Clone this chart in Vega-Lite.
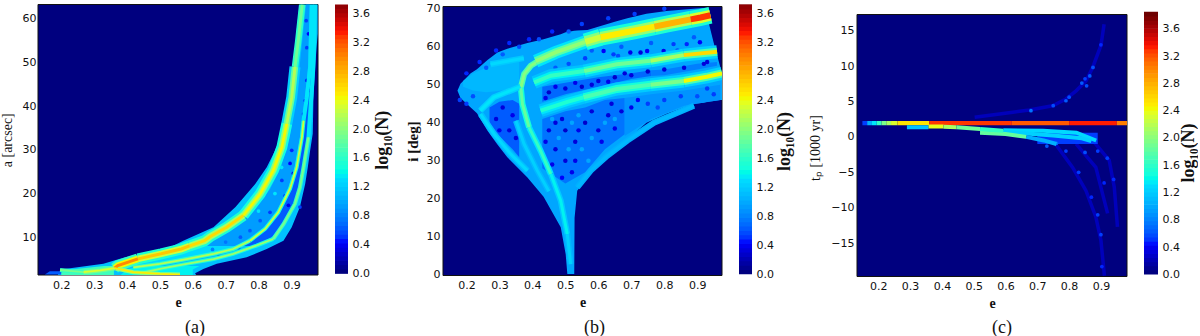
{"$schema":"https://vega.github.io/schema/vega-lite/v6.json","background":"white","padding":{"left":0,"top":2.5,"right":0,"bottom":0},"bounds":"flush","spacing":17,
"config":{"view":{"stroke":null},"axis":{"grid":false,"domain":false,"ticks":false,"tickCount":8,"labelOverlap":false,"labelFont":"DejaVu Sans","labelFontSize":11,"labelColor":"#111","labelPadding":4,"titleColor":"#111","titleFont":"Liberation Serif","titleFontWeight":"bold","titleFontSize":14}},
"datasets":{
"bar":[{"l":0,"h":0.07},{"l":0.06,"h":0.13},{"l":0.12,"h":0.19},{"l":0.18,"h":0.25},{"l":0.24,"h":0.31},{"l":0.3,"h":0.37},{"l":0.36,"h":0.43},{"l":0.42,"h":0.49},{"l":0.48,"h":0.55},{"l":0.54,"h":0.61},{"l":0.6,"h":0.67},{"l":0.66,"h":0.73},{"l":0.72,"h":0.79},{"l":0.78,"h":0.85},{"l":0.84,"h":0.91},{"l":0.9,"h":0.97},{"l":0.96,"h":1.03},{"l":1.02,"h":1.09},{"l":1.08,"h":1.15},{"l":1.14,"h":1.21},{"l":1.2,"h":1.27},{"l":1.26,"h":1.33},{"l":1.32,"h":1.39},{"l":1.38,"h":1.45},{"l":1.44,"h":1.51},{"l":1.5,"h":1.57},{"l":1.56,"h":1.63},{"l":1.62,"h":1.69},{"l":1.68,"h":1.75},{"l":1.74,"h":1.81},{"l":1.8,"h":1.87},{"l":1.86,"h":1.93},{"l":1.92,"h":1.99},{"l":1.98,"h":2.05},{"l":2.04,"h":2.11},{"l":2.1,"h":2.17},{"l":2.16,"h":2.23},{"l":2.22,"h":2.29},{"l":2.28,"h":2.35},{"l":2.34,"h":2.41},{"l":2.4,"h":2.47},{"l":2.46,"h":2.53},{"l":2.52,"h":2.59},{"l":2.58,"h":2.65},{"l":2.64,"h":2.71},{"l":2.7,"h":2.77},{"l":2.76,"h":2.83},{"l":2.82,"h":2.89},{"l":2.88,"h":2.95},{"l":2.94,"h":3.01},{"l":3,"h":3.07},{"l":3.06,"h":3.13},{"l":3.12,"h":3.19},{"l":3.18,"h":3.25},{"l":3.24,"h":3.31},{"l":3.3,"h":3.37},{"l":3.36,"h":3.43},{"l":3.42,"h":3.49},{"l":3.48,"h":3.55},{"l":3.54,"h":3.61},{"l":3.6,"h":3.67},{"l":3.66,"h":3.73},{"l":3.72,"h":3.79},{"l":3.78,"h":3.85}],
"ae":[
{"s":"E","y":1.35,"l":0.19,"h":0.61,"v":1.1},{"s":"E","y":1.75,"l":0.19,"h":0.607,"v":1.1},{"s":"E","y":2.75,"l":0.21,"h":0.632,"v":1.1},{"s":"E","y":3.9,"l":0.328,"h":0.673,"v":1.1},{"s":"E","y":5.4,"l":0.394,"h":0.764,"v":1.1},{"s":"E","y":7.3,"l":0.52,"h":0.825,"v":1.1},{"s":"E","y":9.2,"l":0.571,"h":0.876,"v":1.1},{"s":"E","y":12.3,"l":0.663,"h":0.901,"v":1.1},{"s":"E","y":16.9,"l":0.73,"h":0.926,"v":1.1},{"s":"E","y":22.2,"l":0.79,"h":0.942,"v":1.1},{"s":"E","y":26,"l":0.825,"h":0.95,"v":1.1},{"s":"E","y":29.8,"l":0.85,"h":0.957,"v":1.1},{"s":"E","y":33.7,"l":0.87,"h":0.965,"v":1.1},{"s":"E","y":41.3,"l":0.89,"h":0.967,"v":1.1},{"s":"E","y":48.9,"l":0.908,"h":0.972,"v":1.1},{"s":"E","y":56.6,"l":0.915,"h":0.98,"v":1.1},{"s":"E","y":63.5,"l":0.925,"h":0.98,"v":1.1},
{"s":"F","y":1.45,"l":0.15,"h":0.2,"v":0.6},{"s":"F","y":2.2,"l":0.165,"h":0.2,"v":0.6},
{"s":"T","y":1.35,"l":0.2,"h":0.36,"v":1.65},{"s":"T","y":1.9,"l":0.2,"h":0.36,"v":1.65},{"s":"T","y":2.6,"l":0.23,"h":0.36,"v":1.65},{"s":"T","y":3.4,"l":0.33,"h":0.39,"v":1.65},
{"s":"B","y":1.35,"l":0.38,"h":0.6,"v":1.35},{"s":"B","y":2.6,"l":0.4,"h":0.6,"v":1.35},{"s":"B","y":3.4,"l":0.44,"h":0.62,"v":1.35},
{"s":"W","y":3.4,"l":0.4,"h":0.46,"v":1.25},{"s":"W","y":5,"l":0.47,"h":0.57,"v":1.25},{"s":"W","y":6.2,"l":0.53,"h":0.65,"v":1.25},{"s":"W","y":8,"l":0.61,"h":0.735,"v":1.25},
{"s":"U","y":8,"l":0.61,"h":0.735,"v":0.9},{"s":"U","y":12,"l":0.72,"h":0.815,"v":0.9},{"s":"U","y":16,"l":0.785,"h":0.856,"v":0.9},{"s":"U","y":21,"l":0.835,"h":0.89,"v":0.9},{"s":"U","y":26,"l":0.868,"h":0.91,"v":0.9},{"s":"U","y":33,"l":0.895,"h":0.927,"v":0.9},{"s":"U","y":42,"l":0.915,"h":0.941,"v":0.9},{"s":"U","y":49,"l":0.925,"h":0.951,"v":0.9},{"s":"U","y":63.5,"l":0.945,"h":0.956,"v":0.9},
{"s":"X","y":8,"l":0.74,"h":0.79,"v":0.6},{"s":"X","y":10,"l":0.79,"h":0.84,"v":0.6},{"s":"X","y":13,"l":0.838,"h":0.876,"v":0.6},{"s":"X","y":16,"l":0.866,"h":0.9,"v":0.6},{"s":"X","y":21,"l":0.898,"h":0.925,"v":0.6},{"s":"X","y":26,"l":0.917,"h":0.937,"v":0.6},{"s":"X","y":33,"l":0.933,"h":0.952,"v":0.6},{"s":"X","y":49,"l":0.958,"h":0.967,"v":0.6}],
"al":[
{"s":"A","e":0.911,"y":49,"m":1.55,"c":1.85},{"s":"A","e":0.921,"y":55,"m":1.55,"c":1.85},{"s":"A","e":0.933,"y":63.3,"m":1.55,"c":1.85},
{"s":"B","e":0.886,"y":36,"h":1.2,"m":1.8,"c":2.15},{"s":"B","e":0.901,"y":42,"h":1.2,"m":1.8,"c":2.15},{"s":"B","e":0.911,"y":49,"h":1.2,"m":1.8,"c":2.15},
{"s":"C","e":0.754,"y":15,"h":1.4,"m":2,"c":2.4},{"s":"C","e":0.805,"y":19.9,"h":1.4,"m":2,"c":2.4},{"s":"C","e":0.845,"y":25.3,"h":1.4,"m":2,"c":2.4},{"s":"C","e":0.871,"y":30.6,"h":1.4,"m":2,"c":2.4},{"s":"C","e":0.886,"y":36,"h":1.4,"m":2,"c":2.4},
{"s":"D","e":0.59,"y":8,"h":1.5,"m":2.1,"c":2.55},{"s":"D","e":0.636,"y":9.2,"h":1.5,"m":2.1,"c":2.55},{"s":"D","e":0.652,"y":10.1,"h":1.5,"m":2.1,"c":2.55},{"s":"D","e":0.703,"y":12.3,"h":1.5,"m":2.1,"c":2.55},{"s":"D","e":0.754,"y":15,"h":1.5,"m":2.1,"c":2.55},
{"s":"G","e":0.433,"y":5.05,"h":1.5,"m":2.25,"c":2.65},{"s":"G","e":0.504,"y":6.2,"h":1.5,"m":2.25,"c":2.65},{"s":"G","e":0.565,"y":7.3,"h":1.5,"m":2.25,"c":2.65},{"s":"G","e":0.59,"y":8,"h":1.5,"m":2.25,"c":2.65},
{"s":"P","e":0.362,"y":2.9,"h":1.6,"m":2.4,"c":2.95},{"s":"P","e":0.372,"y":3.5,"h":1.6,"m":2.4,"c":2.95},{"s":"P","e":0.433,"y":5.05,"h":1.6,"m":2.4,"c":2.95}],
"at":[
{"s":"G","e":0.937,"y":36.7,"m":1.3},{"s":"G","e":0.947,"y":42,"m":1.3},{"s":"G","e":0.957,"y":49,"m":1.3},{"s":"G","e":0.962,"y":63.3,"m":1.3},
{"s":"H","e":0.774,"y":9.2,"m":1.5,"c":2.25},{"s":"H","e":0.82,"y":11.9,"m":1.5,"c":2.25},{"s":"H","e":0.86,"y":15.7,"m":1.5,"c":2.25},{"s":"H","e":0.896,"y":21.1,"m":1.5,"c":2.25},{"s":"H","e":0.916,"y":26,"m":1.5,"c":2.25},{"s":"H","e":0.932,"y":32.9,"m":1.5,"c":2.25},{"s":"H","e":0.937,"y":36.7,"m":1.5,"c":2.25},
{"s":"I","e":0.419,"y":3.1,"m":1.6,"c":2.15},{"s":"I","e":0.5,"y":3.9,"m":1.6,"c":2.15},{"s":"I","e":0.581,"y":5,"m":1.6,"c":2.15},{"s":"I","e":0.663,"y":6.2,"m":1.6,"c":2.15},{"s":"I","e":0.723,"y":7.3,"m":1.6,"c":2.15},{"s":"I","e":0.774,"y":9.2,"m":1.6,"c":2.15},
{"s":"J","e":0.952,"y":32.9,"m":1.3},{"s":"J","e":0.967,"y":49,"m":1.3},{"s":"J","e":0.972,"y":63.3,"m":1.3},
{"s":"K","e":0.845,"y":9.6,"m":1.6,"c":1.9},{"s":"K","e":0.876,"y":13,"m":1.6,"c":1.9},{"s":"K","e":0.911,"y":17.7,"m":1.6,"c":1.9},{"s":"K","e":0.926,"y":21.4,"m":1.6,"c":1.9},{"s":"K","e":0.937,"y":26,"m":1.6,"c":1.9},{"s":"K","e":0.952,"y":32.9,"m":1.6,"c":1.9},
{"s":"L","e":0.439,"y":1.75,"m":1.5,"c":2.05},{"s":"L","e":0.5,"y":2.75,"m":1.5,"c":2.05},{"s":"L","e":0.581,"y":3.9,"m":1.5,"c":2.05},{"s":"L","e":0.663,"y":5,"m":1.5,"c":2.05},{"s":"L","e":0.723,"y":6.2,"m":1.5,"c":2.05},{"s":"L","e":0.794,"y":8.1,"m":1.5,"c":2.05},{"s":"L","e":0.845,"y":9.6,"m":1.5,"c":2.05},
{"s":"M","e":0.267,"y":2,"m":1.9,"c":2.3},{"s":"M","e":0.318,"y":2.4,"m":1.9,"c":2.3},{"s":"M","e":0.363,"y":2.9,"m":1.9,"c":2.3},
{"s":"N","e":0.196,"y":2.5,"m":1.6,"c":1.9},{"s":"N","e":0.267,"y":2,"m":1.6,"c":1.9},
{"s":"O","e":0.363,"y":2.9,"m":2,"c":2.45},{"s":"O","e":0.419,"y":2,"m":2,"c":2.45},{"s":"O","e":0.5,"y":1.6,"m":2,"c":2.45},{"s":"O","e":0.561,"y":1.45,"m":2,"c":2.45}],
"ap":[{"e":0.896,"y":26.9,"v":0.4},{"e":0.906,"y":24.6,"v":0.35},{"e":0.881,"y":19.5,"v":0.45},{"e":0.891,"y":17.3,"v":0.35},{"e":0.835,"y":15.7,"v":0.5},{"e":0.871,"y":23,"v":0.5},{"e":0.805,"y":13.8,"v":0.6},{"e":0.774,"y":11.5,"v":0.6},{"e":0.901,"y":29.9,"v":0.45},{"e":0.926,"y":16.9,"v":0.5},{"e":0.952,"y":56.6,"v":0.4},{"e":0.962,"y":51.3,"v":0.4},{"e":0.947,"y":45.9,"v":0.45},{"e":0.957,"y":43.6,"v":0.4},{"e":0.942,"y":41.3,"v":0.5},{"e":0.937,"y":38.2,"v":0.45},{"e":0.945,"y":59.6,"v":0.5},{"e":0.947,"y":53.4,"v":0.5},{"e":0.85,"y":20,"v":1.3},{"e":0.87,"y":26,"v":1.3},{"e":0.8,"y":16,"v":1.3},{"e":0.745,"y":10,"v":0.6},{"e":0.7,"y":8.9,"v":0.7},{"e":0.66,"y":7.2,"v":0.75},{"e":0.74,"y":7.6,"v":0.6},{"e":0.68,"y":5.6,"v":0.75}],
"be":[
{"s":"E","e":0.173,"l":48.4,"h":48.5,"v":0.95},{"s":"E","e":0.182,"l":46.5,"h":50.3,"v":0.95},{"s":"E","e":0.213,"l":44,"h":53,"v":0.95},{"s":"E","e":0.232,"l":42.5,"h":54.1,"v":0.95},{"s":"E","e":0.264,"l":37.9,"h":56.5,"v":0.95},{"s":"E","e":0.294,"l":34.3,"h":58.5,"v":0.95},{"s":"E","e":0.324,"l":30.9,"h":59.5,"v":0.95},{"s":"E","e":0.385,"l":25.6,"h":61,"v":0.95},{"s":"E","e":0.434,"l":20.5,"h":62,"v":0.95},{"s":"E","e":0.486,"l":12.5,"h":63.3,"v":0.95},{"s":"E","e":0.501,"l":5.4,"h":63.8,"v":0.95},{"s":"E","e":0.506,"l":0.2,"h":63.9,"v":0.95},{"s":"E","e":0.527,"l":0.2,"h":64.2,"v":0.95},{"s":"E","e":0.528,"l":15,"h":64.2,"v":0.95},{"s":"E","e":0.536,"l":22.1,"h":64.3,"v":0.95},{"s":"E","e":0.567,"l":25.6,"h":64.4,"v":0.95},{"s":"E","e":0.607,"l":30,"h":65.5,"v":0.95},{"s":"E","e":0.65,"l":33.5,"h":66.6,"v":0.95},{"s":"E","e":0.688,"l":35.6,"h":67.5,"v":0.95},{"s":"E","e":0.746,"l":40,"h":68.7,"v":0.95},{"s":"E","e":0.807,"l":42.4,"h":69.4,"v":0.95},{"s":"E","e":0.889,"l":45,"h":70,"v":0.95},{"s":"E","e":0.919,"l":45.3,"h":70.2,"v":0.95},{"s":"E","e":0.93,"l":45.5,"h":68,"v":0.95},{"s":"E","e":0.95,"l":45.7,"h":61,"v":0.95},{"s":"E","e":0.97,"l":46,"h":54.6,"v":0.95},{"s":"E","e":0.98,"l":46,"h":48.4,"v":0.95},
{"s":"A","e":0.43,"l":45.5,"h":49.5,"v":0.65},{"s":"A","e":0.5,"l":47.5,"h":50.5,"v":0.65},{"s":"A","e":0.6,"l":49.5,"h":52,"v":0.65},{"s":"A","e":0.7,"l":51.5,"h":53,"v":0.65},{"s":"A","e":0.76,"l":52.3,"h":53.8,"v":0.65},
{"s":"B","e":0.76,"l":52.3,"h":53.8,"v":0.75},{"s":"B","e":0.8,"l":52.5,"h":54,"v":0.75},{"s":"B","e":0.9,"l":54,"h":55.5,"v":0.75},{"s":"B","e":0.96,"l":55,"h":56,"v":0.75},
{"s":"C","e":0.43,"l":28,"h":41,"v":0.7},{"s":"C","e":0.5,"l":24,"h":43,"v":0.7},{"s":"C","e":0.56,"l":27,"h":44,"v":0.7},{"s":"C","e":0.62,"l":33,"h":46,"v":0.7},{"s":"C","e":0.68,"l":37,"h":46.5,"v":0.7},
{"s":"D","e":0.68,"l":36.5,"h":46.5,"v":0.85},{"s":"D","e":0.76,"l":41,"h":47.5,"v":0.85},{"s":"D","e":0.86,"l":44.5,"h":48.5,"v":0.85},{"s":"D","e":0.97,"l":46,"h":50,"v":0.85},
{"s":"F","e":0.27,"l":40,"h":44,"v":0.6},{"s":"F","e":0.3,"l":36.5,"h":45.5,"v":0.6},{"s":"F","e":0.34,"l":33,"h":46,"v":0.6},{"s":"F","e":0.36,"l":31,"h":45,"v":0.6},
{"s":"H","e":0.19,"l":49.5,"h":51,"v":1.05},{"s":"H","e":0.22,"l":48.5,"h":53,"v":1.05},{"s":"H","e":0.26,"l":48,"h":54.5,"v":1.05},{"s":"H","e":0.31,"l":48.5,"h":56,"v":1.05},{"s":"H","e":0.36,"l":50,"h":57,"v":1.05}],
"bt":[
{"s":"2","e":0.56,"y":61.3,"h":1.4,"m":1.95,"c":2.25},{"s":"2","e":0.607,"y":62.5,"h":1.4,"m":1.95,"c":2.25},
{"s":"3","e":0.607,"y":62.5,"h":1.45,"m":2,"c":2.45},{"s":"3","e":0.708,"y":64.2,"h":1.45,"m":2,"c":2.45},{"s":"3","e":0.77,"y":65.3,"h":1.45,"m":2,"c":2.45},
{"s":"4","e":0.77,"y":65.3,"h":1.5,"m":2.15,"c":2.75},{"s":"4","e":0.809,"y":66,"h":1.5,"m":2.15,"c":2.75},{"s":"4","e":0.88,"y":67.2,"h":1.5,"m":2.15,"c":2.75},
{"s":"5","e":0.88,"y":67.2,"h":1.5,"m":2.3,"c":3.25},{"s":"5","e":0.91,"y":67.7,"h":1.5,"m":2.3,"c":3.25},{"s":"5","e":0.94,"y":68.3,"h":1.5,"m":2.3,"c":3.25}],
"bm":[
{"s":"T2","e":0.41,"y":56.2,"h":1.3,"m":1.75,"c":2},{"s":"T2","e":0.47,"y":58.5,"h":1.3,"m":1.75,"c":2},{"s":"T2","e":0.56,"y":61.3,"h":1.3,"m":1.75,"c":2},
{"s":"M1","e":0.405,"y":50.6,"h":1.1,"m":1.35,"c":1.6},{"s":"M1","e":0.456,"y":52.4,"h":1.1,"m":1.35,"c":1.6},{"s":"M1","e":0.557,"y":53.6,"h":1.1,"m":1.35,"c":1.6},
{"s":"M2","e":0.557,"y":53.6,"h":1.2,"m":1.5,"c":1.85},{"s":"M2","e":0.656,"y":55.4,"h":1.2,"m":1.5,"c":1.85},{"s":"M2","e":0.758,"y":56.3,"h":1.2,"m":1.5,"c":1.85},
{"s":"M3","e":0.758,"y":56.3,"h":1.2,"m":1.6,"c":2.1},{"s":"M3","e":0.859,"y":57.8,"h":1.2,"m":1.6,"c":2.1},
{"s":"M4","e":0.859,"y":57.8,"h":1.2,"m":1.7,"c":2.55},{"s":"M4","e":0.96,"y":58.7,"h":1.2,"m":1.7,"c":2.55},
{"s":"L1","e":0.425,"y":43.2,"h":1.1,"m":1.3,"c":1.5},{"s":"L1","e":0.506,"y":45.5,"h":1.1,"m":1.3,"c":1.5},{"s":"L1","e":0.555,"y":46.7,"h":1.1,"m":1.3,"c":1.5},
{"s":"L2","e":0.555,"y":46.7,"h":1.15,"m":1.45,"c":1.7},{"s":"L2","e":0.656,"y":48.9,"h":1.15,"m":1.45,"c":1.7},{"s":"L2","e":0.758,"y":50,"h":1.15,"m":1.45,"c":1.7},
{"s":"L3","e":0.758,"y":50,"h":1.2,"m":1.55,"c":1.9},{"s":"L3","e":0.859,"y":51,"h":1.2,"m":1.55,"c":1.9},
{"s":"L4","e":0.859,"y":51,"h":1.2,"m":1.7,"c":2.4},{"s":"L4","e":0.929,"y":52.1,"h":1.2,"m":1.7,"c":2.4},{"s":"L4","e":0.975,"y":53,"h":1.2,"m":1.7,"c":2.4}],
"bs":[
{"s":"T","e":0.365,"y":49.3,"m":1.7,"c":1.95},{"s":"T","e":0.375,"y":52.8,"m":1.7,"c":1.95},{"s":"T","e":0.395,"y":55,"m":1.7,"c":1.95},{"s":"T","e":0.435,"y":57.2,"m":1.7,"c":1.95},
{"s":"a","e":0.365,"y":49.3,"m":1.45,"c":1.8},{"s":"a","e":0.37,"y":44.9,"m":1.45,"c":1.8},{"s":"a","e":0.39,"y":38.8,"m":1.45,"c":1.8},
{"s":"b","e":0.39,"y":38.8,"m":1.3,"c":1.6},{"s":"b","e":0.425,"y":32.6,"m":1.3,"c":1.6},{"s":"b","e":0.456,"y":26.5,"m":1.3,"c":1.6},
{"s":"c","e":0.456,"y":26.5,"m":1.15,"c":1.35},{"s":"c","e":0.486,"y":19.5,"m":1.15,"c":1.35},{"s":"c","e":0.506,"y":10.7,"m":1.15,"c":1.35},
{"s":"d","e":0.506,"y":10.7,"m":1.05,"c":1.2},{"s":"d","e":0.516,"y":2.8,"m":1.05,"c":1.2},
{"s":"f","e":0.242,"y":43.2,"m":1.2,"c":1.3},{"s":"f","e":0.283,"y":46.7,"m":1.2,"c":1.3},{"s":"f","e":0.364,"y":49.5,"m":1.2,"c":1.3},
{"s":"g","e":0.243,"y":42.3,"m":1.1,"c":1.25},{"s":"g","e":0.284,"y":37,"m":1.1,"c":1.25},{"s":"g","e":0.334,"y":31.8,"m":1.1,"c":1.25},{"s":"g","e":0.385,"y":27.4,"m":1.1,"c":1.25},
{"s":"i","e":0.35,"y":40.5,"m":1.05,"c":1.2},{"s":"i","e":0.375,"y":34.4,"m":1.05,"c":1.2},{"s":"i","e":0.415,"y":27.4,"m":1.05,"c":1.2},{"s":"i","e":0.45,"y":22,"m":1.05,"c":1.2},
{"s":"j","e":0.536,"y":23,"m":1,"c":1.05},{"s":"j","e":0.577,"y":27.4,"m":1,"c":1.05},{"s":"j","e":0.627,"y":31.3,"m":1,"c":1.05},{"s":"j","e":0.688,"y":35.3,"m":1,"c":1.05},{"s":"j","e":0.769,"y":40,"m":1,"c":1.05},{"s":"j","e":0.89,"y":44.5,"m":1,"c":1.05},
{"s":"k","e":0.273,"y":55.4,"m":1.15,"c":1.25},{"s":"k","e":0.374,"y":57,"m":1.15,"c":1.25}],
"bp":[{"e":0.697,"y":58.5,"v":0.35},{"e":0.728,"y":58.5,"v":0.3},{"e":0.748,"y":58.9,"v":0.4},{"e":0.798,"y":58.9,"v":0.35},{"e":0.828,"y":60.7,"v":0.5},{"e":0.616,"y":58.9,"v":0.4},{"e":0.646,"y":58,"v":0.5},{"e":0.868,"y":60.7,"v":0.45},{"e":0.908,"y":61.2,"v":0.4},{"e":0.56,"y":57,"v":0.5},{"e":0.51,"y":55.5,"v":0.55},{"e":0.93,"y":56,"v":0.3},{"e":0.58,"y":59,"v":0.6},{"e":0.67,"y":60,"v":0.6},{"e":0.76,"y":61,"v":0.6},{"e":0.84,"y":59,"v":0.55},{"e":0.47,"y":54.5,"v":0.6},{"e":0.66,"y":57.6,"v":0.55},{"e":0.89,"y":62.5,"v":0.6},
{"e":0.45,"y":48,"v":0.25},{"e":0.5,"y":49,"v":0.3},{"e":0.55,"y":49.5,"v":0.25},{"e":0.6,"y":51,"v":0.3},{"e":0.65,"y":52,"v":0.25},{"e":0.7,"y":52.5,"v":0.3},{"e":0.75,"y":53.5,"v":0.25},{"e":0.8,"y":54,"v":0.3},{"e":0.86,"y":54.5,"v":0.3},{"e":0.92,"y":55.5,"v":0.3},{"e":0.47,"y":49.5,"v":0.35},{"e":0.53,"y":50.5,"v":0.35},{"e":0.58,"y":50,"v":0.3},{"e":0.63,"y":50.8,"v":0.35},{"e":0.68,"y":53,"v":0.3},{"e":0.44,"y":46.5,"v":0.35},
{"e":0.45,"y":38,"v":0.3},{"e":0.47,"y":33,"v":0.3},{"e":0.5,"y":38,"v":0.25},{"e":0.53,"y":35,"v":0.3},{"e":0.56,"y":40,"v":0.25},{"e":0.6,"y":38,"v":0.3},{"e":0.63,"y":42,"v":0.3},{"e":0.67,"y":43,"v":0.3},{"e":0.7,"y":44,"v":0.35},{"e":0.5,"y":30,"v":0.3},{"e":0.52,"y":27,"v":0.35},{"e":0.47,"y":40,"v":0.3},{"e":0.44,"y":35,"v":0.35},{"e":0.49,"y":41,"v":0.3},{"e":0.54,"y":38,"v":0.35},{"e":0.58,"y":43,"v":0.3},{"e":0.61,"y":35,"v":0.35},{"e":0.65,"y":38.5,"v":0.35},{"e":0.46,"y":29,"v":0.35},{"e":0.53,"y":30,"v":0.35},{"e":0.64,"y":45,"v":0.3},{"e":0.72,"y":46,"v":0.4},{"e":0.49,"y":25.5,"v":0.4},
{"e":0.48,"y":36,"v":0.95},{"e":0.52,"y":40,"v":0.95},{"e":0.55,"y":33,"v":0.95},{"e":0.58,"y":36,"v":0.95},{"e":0.62,"y":40,"v":0.95},{"e":0.51,"y":33,"v":0.95},{"e":0.65,"y":41,"v":0.95},{"e":0.54,"y":42,"v":0.95},{"e":0.46,"y":41,"v":0.95},{"e":0.57,"y":30,"v":0.95},
{"e":0.75,"y":45,"v":0.5},{"e":0.8,"y":46,"v":0.5},{"e":0.85,"y":47,"v":0.5},{"e":0.9,"y":47,"v":0.55},{"e":0.93,"y":49,"v":0.5},{"e":0.78,"y":44,"v":0.55},{"e":0.95,"y":47.5,"v":0.5},
{"e":0.29,"y":41,"v":0.3},{"e":0.31,"y":44,"v":0.3},{"e":0.33,"y":38,"v":0.3},{"e":0.35,"y":36,"v":0.3},{"e":0.3,"y":38,"v":0.35},{"e":0.34,"y":42,"v":0.35},
{"e":0.2,"y":53,"v":0.45},{"e":0.24,"y":56,"v":0.45},{"e":0.29,"y":59,"v":0.45},{"e":0.33,"y":61,"v":0.45},{"e":0.39,"y":62,"v":0.45},{"e":0.46,"y":64,"v":0.45},{"e":0.55,"y":66,"v":0.5},{"e":0.63,"y":67.5,"v":0.5},{"e":0.18,"y":46,"v":0.5},{"e":0.2,"y":45,"v":0.5},{"e":0.22,"y":47,"v":0.55},{"e":0.26,"y":54.5,"v":0.6},{"e":0.31,"y":58,"v":0.6},{"e":0.36,"y":60,"v":0.55},{"e":0.42,"y":62,"v":0.55},{"e":0.51,"y":64,"v":0.6},{"e":0.71,"y":68.6,"v":0.5},{"e":0.8,"y":70,"v":0.5}],
"cr":[
{"a":0.7,"b":0.89,"l":-1,"h":0.6,"v":0.5},
{"a":0.15,"b":0.165,"l":1.65,"h":2.25,"v":0.5},{"a":0.165,"b":0.18,"l":1.65,"h":2.25,"v":1},{"a":0.18,"b":0.195,"l":1.65,"h":2.25,"v":1.3},{"a":0.195,"b":0.21,"l":1.65,"h":2.25,"v":1.6},{"a":0.21,"b":0.225,"l":1.65,"h":2.25,"v":1.9},{"a":0.225,"b":0.24,"l":1.65,"h":2.25,"v":2.1},{"a":0.24,"b":0.26,"l":1.65,"h":2.25,"v":2.3},{"a":0.26,"b":0.36,"l":1.65,"h":2.25,"v":2.5},{"a":0.36,"b":0.62,"l":1.65,"h":2.25,"v":3.25},{"a":0.62,"b":0.8,"l":1.65,"h":2.25,"v":3.15},{"a":0.8,"b":0.95,"l":1.65,"h":2.25,"v":3.3},{"a":0.95,"b":0.982,"l":1.65,"h":2.25,"v":3}],
"cl":[
{"s":"1","e":0.29,"y":1.37,"v":1.1},{"s":"1","e":0.358,"y":1.37,"v":1.1},
{"s":"A","e":0.593,"y":0.95,"v":1.25},{"s":"A","e":0.718,"y":0.85,"v":1.25},{"s":"A","e":0.823,"y":0.6,"v":1.25},{"s":"A","e":0.885,"y":-0.51,"v":1.25},
{"s":"B","e":0.52,"y":0.9,"v":1.2},{"s":"B","e":0.655,"y":0.5,"v":1.2},{"s":"B","e":0.75,"y":0.2,"v":1.2},{"s":"B","e":0.84,"y":-0.2,"v":1.2},{"s":"B","e":0.87,"y":-0.6,"v":1.2},
{"s":"D","e":0.665,"y":0,"v":1},{"s":"D","e":0.72,"y":-0.5,"v":1},{"s":"D","e":0.76,"y":-1,"v":1},
{"s":"C","e":0.52,"y":0.6,"v":1.8},{"s":"C","e":0.6,"y":0.4,"v":1.8},{"s":"C","e":0.665,"y":0,"v":1.8},
{"s":"2","e":0.358,"y":1.46,"v":2.35},{"s":"2","e":0.405,"y":1.46,"v":2.35},
{"s":"3","e":0.405,"y":1.42,"v":2.1},{"s":"3","e":0.446,"y":1.37,"v":2.1},
{"s":"4","e":0.446,"y":1.37,"v":1.85},{"s":"4","e":0.52,"y":1.1,"v":1.85},
{"s":"5","e":0.52,"y":1.1,"v":1.6},{"s":"5","e":0.593,"y":0.85,"v":1.6}],
"ct":[
{"s":"u","e":0.503,"y":2.77,"v":0.2},{"s":"u","e":0.623,"y":3.47,"v":0.2},{"s":"u","e":0.675,"y":3.8,"v":0.2},{"s":"u","e":0.748,"y":4.4,"v":0.2},{"s":"u","e":0.79,"y":5.35,"v":0.2},{"s":"u","e":0.822,"y":6.5,"v":0.2},{"s":"u","e":0.853,"y":7.9,"v":0.2},{"s":"u","e":0.874,"y":9.8,"v":0.2},{"s":"u","e":0.9,"y":12.9,"v":0.2},{"s":"u","e":0.91,"y":15.9,"v":0.2},
{"s":"a","e":0.749,"y":-0.5,"v":0.2},{"s":"a","e":0.811,"y":-4.3,"v":0.2},{"s":"a","e":0.853,"y":-7.6,"v":0.2},{"s":"a","e":0.884,"y":-11.3,"v":0.2},{"s":"a","e":0.9,"y":-14.6,"v":0.2},{"s":"a","e":0.911,"y":-19.6,"v":0.2},
{"s":"b","e":0.874,"y":-0.5,"v":0.2},{"s":"b","e":0.926,"y":-3.3,"v":0.2},{"s":"b","e":0.942,"y":-7.1,"v":0.2},{"s":"b","e":0.952,"y":-12.7,"v":0.2},
{"s":"c","e":0.822,"y":-1,"v":0.2},{"s":"c","e":0.884,"y":-4.3,"v":0.2},{"s":"c","e":0.905,"y":-8,"v":0.2},{"s":"c","e":0.921,"y":-10.8,"v":0.2}],
"cp":[{"e":0.79,"y":5.1,"v":0.6},{"e":0.8,"y":5.6,"v":0.55},{"e":0.84,"y":7.6,"v":0.6},{"e":0.855,"y":7.2,"v":0.55},{"e":0.865,"y":8.6,"v":0.6},{"e":0.875,"y":9.8,"v":0.55},{"e":0.85,"y":8.2,"v":0.5},{"e":0.68,"y":3.7,"v":0.7},{"e":0.75,"y":4.4,"v":0.55},{"e":0.9,"y":13,"v":0.45},{"e":0.73,"y":-1.3,"v":0.6},{"e":0.76,"y":-0.9,"v":0.65},{"e":0.79,"y":-2,"v":0.5},{"e":0.83,"y":-5,"v":0.5},{"e":0.87,"y":-8.5,"v":0.45},{"e":0.89,"y":-11,"v":0.5},{"e":0.9,"y":-13.8,"v":0.5},{"e":0.903,"y":-18.3,"v":0.45},{"e":0.92,"y":-3,"v":0.5},{"e":0.94,"y":-6,"v":0.45},{"e":0.89,"y":-2,"v":0.5},{"e":0.85,"y":-2.2,"v":0.55},{"e":0.91,"y":-6.5,"v":0.45}]
},
"hconcat":[
{"width":280,"height":270.5,"title":{"text":"(a)","orient":"bottom","font":"Liberation Serif","fontSize":18,"fontWeight":"normal","color":"#111","dx":17,"offset":10},
"layer":[
{"data":{"name":"ae"},"mark":{"type":"area","orient":"horizontal","clip":true,"opacity":0},"encoding":{"y":{"field":"y","type":"quantitative","scale":{"domain":[1.35,63.3],"nice":false,"zero":false},"axis":{"title":"a [arcsec]","labelPadding":2,"titlePadding":8,"titleFontWeight":"normal"}},"x":{"field":"l","type":"quantitative","scale":{"domain":[0.129,0.981],"nice":false,"zero":false},"axis":{"title":"e","titlePadding":5}},"x2":{"field":"h"},"detail":{"field":"s"}}},
{"data":{"values":[{}]},"mark":{"type":"rect","fill":"#00007f","stroke":"#111","strokeWidth":1},"encoding":{"x":{"datum":0.129,"type":"quantitative"},"x2":{"datum":0.981},"y":{"datum":1.35,"type":"quantitative"},"y2":{"datum":63.3}}},
{"data":{"name":"ae"},"mark":{"type":"area","orient":"horizontal","clip":true},"encoding":{"y":{"field":"y","type":"quantitative"},"x":{"field":"l","type":"quantitative"},"x2":{"field":"h"},"detail":{"field":"s"},"color":{"field":"v","type":"quantitative","legend":null,"scale":{"domain":[0,0.41,1.265,1.395,2.38,2.455,3.31,3.72],"range":["#00007f","#0000ff","#00dbff","#14ffe2","#eeff08","#ffec00","#ff1300","#7f0000"]}}}},
{"data":{"name":"al"},"transform":[{"filter":"datum.h>0"}],"mark":{"type":"line","strokeWidth":11,"clip":true},"encoding":{"x":{"field":"e","type":"quantitative"},"y":{"field":"y","type":"quantitative"},"detail":{"field":"s"},"color":{"field":"h","type":"quantitative","legend":null}}},
{"data":{"name":"ap"},"mark":{"type":"circle","size":14,"opacity":1,"clip":true},"encoding":{"x":{"field":"e","type":"quantitative"},"y":{"field":"y","type":"quantitative"},"color":{"field":"v","type":"quantitative","legend":null}}},
{"data":{"name":"al"},"mark":{"type":"line","strokeWidth":6.5,"clip":true},"encoding":{"x":{"field":"e","type":"quantitative"},"y":{"field":"y","type":"quantitative"},"detail":{"field":"s"},"color":{"field":"m","type":"quantitative","legend":null}}},
{"data":{"name":"at"},"mark":{"type":"line","strokeWidth":4,"clip":true},"encoding":{"x":{"field":"e","type":"quantitative"},"y":{"field":"y","type":"quantitative"},"detail":{"field":"s"},"color":{"field":"m","type":"quantitative","legend":null}}},
{"data":{"name":"al"},"mark":{"type":"line","strokeWidth":3,"clip":true},"encoding":{"x":{"field":"e","type":"quantitative"},"y":{"field":"y","type":"quantitative"},"detail":{"field":"s"},"color":{"field":"c","type":"quantitative","legend":null}}},
{"data":{"name":"at"},"transform":[{"filter":"datum.c>0"}],"mark":{"type":"line","strokeWidth":1.8,"clip":true},"encoding":{"x":{"field":"e","type":"quantitative"},"y":{"field":"y","type":"quantitative"},"detail":{"field":"s"},"color":{"field":"c","type":"quantitative","legend":null}}}
]},
{"width":13,"height":270.5,"layer":[
{"data":{"name":"bar"},"mark":{"type":"rect","clip":true},"encoding":{"y":{"field":"l","type":"quantitative","scale":{"domain":[-0.016,3.72],"nice":false,"zero":false},"axis":{"orient":"right","title":"log₁₀(N)","titleAngle":270,"titleFontSize":18,"titlePadding":22,"tickCount":10,"values":[0,0.4,0.8,1.2,1.6,2,2.4,2.8,3.2,3.6],"format":".1f"}},"y2":{"field":"h"},"color":{"field":"l","type":"quantitative","legend":null,"scale":{"domain":[0,0.41,1.265,1.395,2.38,2.455,3.31,3.72],"range":["#00007f","#0000ff","#00dbff","#14ffe2","#eeff08","#ffec00","#ff1300","#7f0000"]}}}}
]},
{"width":61,"height":10,"data":{"values":[{}]},"mark":{"type":"rule","opacity":0},"encoding":{}},
{"width":279,"height":271,"title":{"text":"(b)","orient":"bottom","font":"Liberation Serif","fontSize":18,"fontWeight":"normal","color":"#111","dx":12,"offset":9},
"layer":[
{"data":{"name":"be"},"mark":{"type":"area","orient":"vertical","clip":true,"opacity":0},"encoding":{"x":{"field":"e","type":"quantitative","scale":{"domain":[0.129,0.975],"nice":false,"zero":false},"axis":{"title":"e","titlePadding":5}},"y":{"field":"l","type":"quantitative","scale":{"domain":[-0.2,70.6],"range":[271,2],"nice":false,"zero":false},"axis":{"title":"i [deg]","labelPadding":3,"titlePadding":6,"titleFontSize":15}},"y2":{"field":"h"},"detail":{"field":"s"}}},
{"data":{"values":[{}]},"mark":{"type":"rect","fill":"#00007f","stroke":"#111","strokeWidth":1},"encoding":{"x":{"datum":0.129,"type":"quantitative"},"x2":{"datum":0.975},"y":{"datum":-0.2,"type":"quantitative"},"y2":{"datum":70.6}}},
{"data":{"name":"be"},"mark":{"type":"area","orient":"vertical","clip":true},"encoding":{"x":{"field":"e","type":"quantitative"},"y":{"field":"l","type":"quantitative"},"y2":{"field":"h"},"detail":{"field":"s"},"color":{"field":"v","type":"quantitative","legend":null,"scale":{"domain":[0,0.41,1.265,1.395,2.38,2.455,3.31,3.72],"range":["#00007f","#0000ff","#00dbff","#14ffe2","#eeff08","#ffec00","#ff1300","#7f0000"]}}}},
{"data":{"name":"bp"},"mark":{"type":"circle","size":20,"opacity":1,"clip":true},"encoding":{"x":{"field":"e","type":"quantitative"},"y":{"field":"y","type":"quantitative"},"color":{"field":"v","type":"quantitative","legend":null}}},
{"data":{"name":"bs"},"mark":{"type":"line","strokeWidth":6,"clip":true},"encoding":{"x":{"field":"e","type":"quantitative"},"y":{"field":"y","type":"quantitative"},"detail":{"field":"s"},"color":{"field":"m","type":"quantitative","legend":null}}},
{"data":{"name":"bs"},"mark":{"type":"line","strokeWidth":3,"clip":true},"encoding":{"x":{"field":"e","type":"quantitative"},"y":{"field":"y","type":"quantitative"},"detail":{"field":"s"},"color":{"field":"c","type":"quantitative","legend":null}}},
{"data":{"name":"bm"},"mark":{"type":"line","strokeWidth":13,"clip":true},"encoding":{"x":{"field":"e","type":"quantitative"},"y":{"field":"y","type":"quantitative"},"detail":{"field":"s"},"color":{"field":"h","type":"quantitative","legend":null}}},
{"data":{"name":"bm"},"mark":{"type":"line","strokeWidth":8,"clip":true},"encoding":{"x":{"field":"e","type":"quantitative"},"y":{"field":"y","type":"quantitative"},"detail":{"field":"s"},"color":{"field":"m","type":"quantitative","legend":null}}},
{"data":{"name":"bm"},"mark":{"type":"line","strokeWidth":4,"clip":true},"encoding":{"x":{"field":"e","type":"quantitative"},"y":{"field":"y","type":"quantitative"},"detail":{"field":"s"},"color":{"field":"c","type":"quantitative","legend":null}}},
{"data":{"name":"bt"},"mark":{"type":"line","strokeWidth":17,"clip":true},"encoding":{"x":{"field":"e","type":"quantitative"},"y":{"field":"y","type":"quantitative"},"detail":{"field":"s"},"color":{"field":"h","type":"quantitative","legend":null}}},
{"data":{"name":"bt"},"mark":{"type":"line","strokeWidth":11,"clip":true},"encoding":{"x":{"field":"e","type":"quantitative"},"y":{"field":"y","type":"quantitative"},"detail":{"field":"s"},"color":{"field":"m","type":"quantitative","legend":null}}},
{"data":{"name":"bt"},"mark":{"type":"line","strokeWidth":6,"clip":true},"encoding":{"x":{"field":"e","type":"quantitative"},"y":{"field":"y","type":"quantitative"},"detail":{"field":"s"},"color":{"field":"c","type":"quantitative","legend":null}}}
]},
{"width":13,"height":271,"layer":[
{"data":{"name":"bar"},"mark":{"type":"rect","clip":true},"encoding":{"y":{"field":"l","type":"quantitative","scale":{"domain":[-0.016,3.7],"range":[271,2],"nice":false,"zero":false},"axis":{"orient":"right","title":"log₁₀(N)","titleAngle":270,"titleFontSize":18,"titlePadding":20,"tickCount":10,"values":[0,0.4,0.8,1.2,1.6,2,2.4,2.8,3.2,3.6],"format":".1f"}},"y2":{"field":"h"},"color":{"field":"l","type":"quantitative","legend":null,"scale":{"domain":[0,0.41,1.265,1.395,2.38,2.455,3.31,3.72],"range":["#00007f","#0000ff","#00dbff","#14ffe2","#eeff08","#ffec00","#ff1300","#7f0000"]}}}}
]},
{"width":71,"height":10,"data":{"values":[{}]},"mark":{"type":"rule","opacity":0},"encoding":{}},
{"width":270,"height":272,"title":{"text":"(c)","orient":"bottom","font":"Liberation Serif","fontSize":18,"fontWeight":"normal","color":"#111","dx":10,"offset":8},
"layer":[
{"data":{"name":"ct"},"mark":{"type":"line","strokeWidth":4,"opacity":0,"clip":true},"encoding":{"x":{"field":"e","type":"quantitative","scale":{"domain":[0.133,0.982],"nice":false,"zero":false},"axis":{"title":"e","titlePadding":5}},"y":{"field":"y","type":"quantitative","scale":{"domain":[-19.7,17.27],"range":[272,10],"nice":false,"zero":false},"axis":{"title":"tₚ [1000 yr]","labelPadding":3,"titlePadding":8,"titleFontWeight":"normal","titleY":143}},"detail":{"field":"s"}}},
{"data":{"values":[{}]},"mark":{"type":"rect","fill":"#00007f","stroke":"#111","strokeWidth":1},"encoding":{"x":{"datum":0.133,"type":"quantitative"},"x2":{"datum":0.982},"y":{"datum":-19.7,"type":"quantitative"},"y2":{"datum":17.27}}},
{"data":{"name":"ct"},"mark":{"type":"line","strokeWidth":3.5,"clip":true},"encoding":{"x":{"field":"e","type":"quantitative"},"y":{"field":"y","type":"quantitative"},"detail":{"field":"s"},"color":{"field":"v","type":"quantitative","legend":null,"scale":{"domain":[0,0.41,1.265,1.395,2.38,2.455,3.31,3.72],"range":["#00007f","#0000ff","#00dbff","#14ffe2","#eeff08","#ffec00","#ff1300","#7f0000"]}}}},
{"data":{"name":"cr"},"mark":{"type":"rect","clip":true},"encoding":{"x":{"field":"a","type":"quantitative"},"x2":{"field":"b"},"y":{"field":"l","type":"quantitative"},"y2":{"field":"h"},"color":{"field":"v","type":"quantitative","legend":null}}},
{"data":{"name":"cp"},"mark":{"type":"circle","size":14,"opacity":1,"clip":true},"encoding":{"x":{"field":"e","type":"quantitative"},"y":{"field":"y","type":"quantitative"},"color":{"field":"v","type":"quantitative","legend":null}}},
{"data":{"name":"cl"},"mark":{"type":"line","strokeWidth":4,"clip":true},"encoding":{"x":{"field":"e","type":"quantitative"},"y":{"field":"y","type":"quantitative"},"detail":{"field":"s"},"color":{"field":"v","type":"quantitative","legend":null}}}
]},
{"width":14,"height":272,"layer":[
{"data":{"name":"bar"},"mark":{"type":"rect","clip":true},"encoding":{"y":{"field":"l","type":"quantitative","scale":{"domain":[-0.03,3.81],"range":[272,10],"nice":false,"zero":false},"axis":{"orient":"right","title":"log₁₀(N)","titleAngle":270,"titleFontSize":18,"titlePadding":18,"titleY":148,"tickCount":10,"values":[0,0.4,0.8,1.2,1.6,2,2.4,2.8,3.2,3.6],"format":".1f"}},"y2":{"field":"h"},"color":{"field":"l","type":"quantitative","legend":null,"scale":{"domain":[0,0.41,1.265,1.395,2.38,2.455,3.31,3.72],"range":["#00007f","#0000ff","#00dbff","#14ffe2","#eeff08","#ffec00","#ff1300","#7f0000"]}}}}
]}
]}
